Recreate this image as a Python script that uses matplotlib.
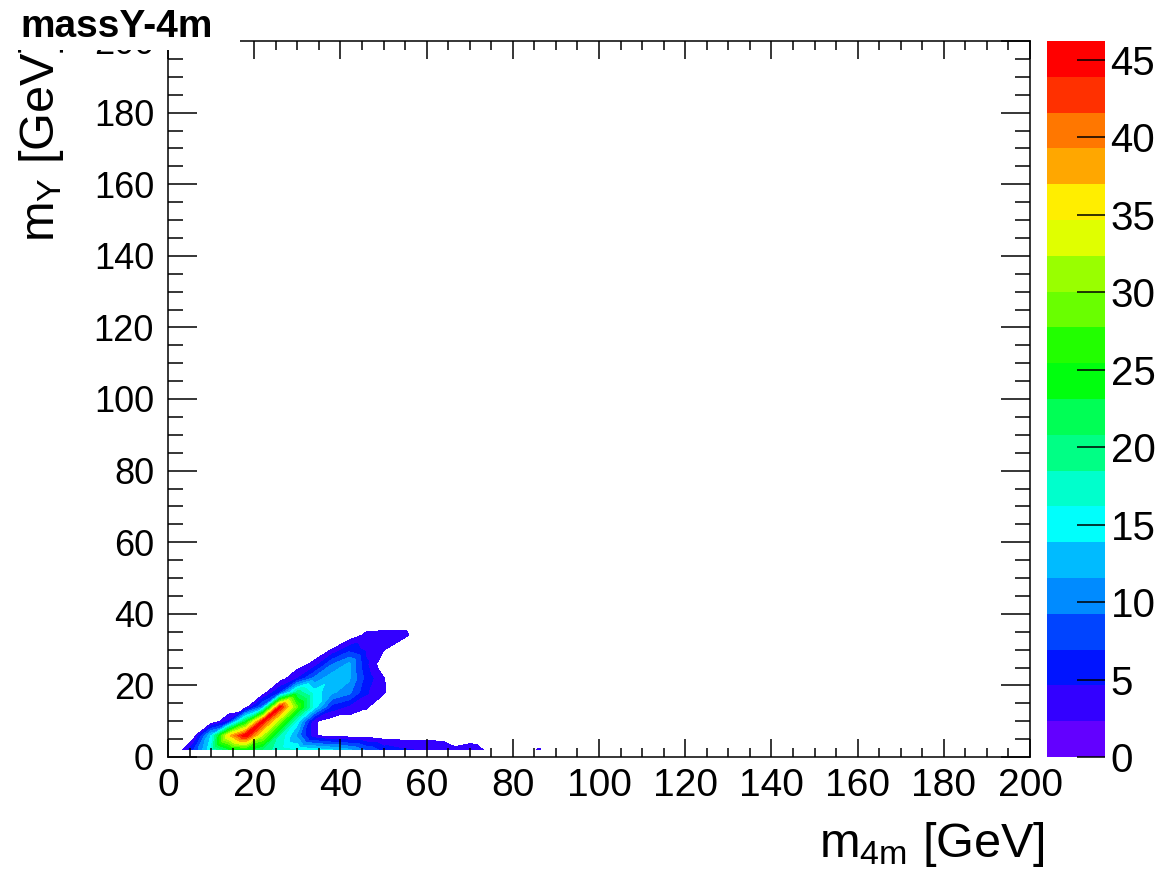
import colorsys
import numpy as np
import matplotlib
matplotlib.use('Agg')
import matplotlib.pyplot as plt
import matplotlib.tri as mtri
from matplotlib.colors import ListedColormap, BoundaryNorm
from matplotlib.cm import ScalarMappable
from matplotlib.patches import Rectangle
from matplotlib.ticker import MultipleLocator

plt.rcParams['font.family'] = ['Liberation Sans', 'DejaVu Sans']
plt.rcParams['mathtext.default'] = 'regular'

# bin centres [GeV]
m4m_centres = [2, 6, 10, 14, 18, 22, 26, 30, 34, 38, 42, 46, 50, 54, 58, 62, 66, 70, 74, 78, 82, 86, 90]
mY_centres = [2, 6, 10, 14, 18, 22, 26, 30, 34, 38]

# entries per bin, one list per mY row (columns follow m4m_centres)
row_y02 = [0, 7, 16, 22, 24, 20, 17, 16, 15, 14, 12, 9, 6, 5, 4.5, 4.5, 3, 3.8, 1.9, 0, 0, 2.6, 0]
row_y06 = [0, 1.2, 14, 36, 46.2, 32, 18, 11, 2.6, 1.0, 1.0, 1.0, 0.8, 1.0, 1.0, 1.0, 0.5, 0.3, 0, 0, 0, 0, 0]
row_y10 = [0, 0, 0, 4.5, 22, 45, 30, 15, 2.6, 1.0, 1.0, 1.0, 0.5, 0, 0, 0, 0, 0, 0, 0, 0, 0, 0]
row_y14 = [0, 0, 0, 0, 1.0, 10, 45, 28, 15, 6, 4, 2.6, 0.5, 0, 0, 0, 0, 0, 0, 0, 0, 0, 0]
row_y18 = [0, 0, 0, 0, 0, 1.0, 7, 20, 15, 12, 10, 5, 2.6, 0, 0, 0, 0, 0, 0, 0, 0, 0, 0]
row_y22 = [0, 0, 0, 0, 0, 0, 1.0, 4.5, 10, 13, 12, 6, 2.5, 0, 0, 0, 0, 0, 0, 0, 0, 0, 0]
row_y26 = [0, 0, 0, 0, 0, 0, 0, 1.0, 3.0, 9, 12, 5, 0.5, 0, 0, 0, 0, 0, 0, 0, 0, 0, 0]
row_y30 = [0, 0, 0, 0, 0, 0, 0, 0, 0.5, 2.4, 6, 4, 2.5, 0, 0, 0, 0, 0, 0, 0, 0, 0, 0]
row_y34 = [0, 0, 0, 0, 0, 0, 0, 0, 0, 0, 0.5, 3, 3.5, 3.5, 1.0, 0, 0, 0, 0, 0, 0, 0, 0]
row_y38 = [0, 0, 0, 0, 0, 0, 0, 0, 0, 0, 0, 0, 0, 0, 0, 0, 0, 0, 0, 0, 0, 0, 0]

z_max = 46.2
n_levels = 20
cbar_ticks = [0, 5, 10, 15, 20, 25, 30, 35, 40, 45]

z = np.array([row_y02, row_y06, row_y10, row_y14, row_y18,
              row_y22, row_y26, row_y30, row_y34, row_y38])
X, Y = np.meshgrid(m4m_centres, mY_centres)
nx, ny = len(m4m_centres), len(mY_centres)

# split every cell along the "/" diagonal
tris = []
for j in range(ny - 1):
    for i in range(nx - 1):
        k = j * nx + i
        tris.append([k, k + 1, k + nx + 1])
        tris.append([k, k + nx + 1, k + nx])
tri = mtri.Triangulation(X.ravel(), Y.ravel(), tris)

# old ROOT "pretty" palette (violet -> red), 20 contour bands
bounds = np.linspace(0, z_max, n_levels + 1)
hues = [280 - (int((i + 0.99) * 50 / n_levels) + 1) * 5.6 for i in range(n_levels)]
colors = [colorsys.hls_to_rgb(max(h, 0) / 360, 0.5, 1.0) for h in hues]

fig = plt.figure(figsize=(11.69, 8.75), dpi=100)
ax = fig.add_axes([168 / 1169, 118 / 875, 862 / 1169, 716 / 875])
ax.tricontourf(tri, z.ravel(), levels=bounds[1:], colors=colors[1:])
ax.set_xlim(0, 200)
ax.set_ylim(0, 200)

ax.xaxis.set_major_locator(MultipleLocator(20))
ax.xaxis.set_minor_locator(MultipleLocator(5))
ax.yaxis.set_major_locator(MultipleLocator(20))
ax.yaxis.set_minor_locator(MultipleLocator(5))
ax.tick_params(which='both', direction='in', top=True, right=True, width=1.1)
ax.tick_params(axis='x', which='major', length=13, labelsize=28, pad=8)
ax.tick_params(axis='x', which='minor', length=6.5)
ax.tick_params(axis='y', which='major', length=21, labelsize=26, pad=10)
ax.tick_params(axis='y', which='minor', length=10.5)
for s in ax.spines.values():
    s.set_linewidth(1.1)

cax = fig.add_axes([1047 / 1169, 118 / 875, 58 / 1169, 716 / 875])
sm = ScalarMappable(norm=BoundaryNorm(bounds, n_levels), cmap=ListedColormap(colors))
cb = fig.colorbar(sm, cax=cax, ticks=cbar_ticks)
cb.outline.set_visible(False)
cb.minorticks_off()
cax.tick_params(direction='in', length=20, width=1.1, labelsize=29, pad=4)

fig.text(42 / 1169, 1 - 41 / 875, 'm$_{Y}$ [GeV]', rotation=90,
         ha='center', va='top', fontsize=35)
fig.text(1045 / 1169, 1 - 857 / 875, 'm$_{4m}$ [GeV]',
         ha='right', va='baseline', fontsize=35)

# title box on top of the frame corner
fig.add_artist(Rectangle((0, 1 - 50 / 875), 240 / 1169, 50 / 875,
                         transform=fig.transFigure, facecolor='white',
                         edgecolor='none', zorder=10))
fig.text(20 / 1169, 1 - 27 / 875, 'massY-4m', ha='left', va='center',
         fontsize=28, fontweight='bold', zorder=11)

fig.savefig('out.png', dpi=100)
